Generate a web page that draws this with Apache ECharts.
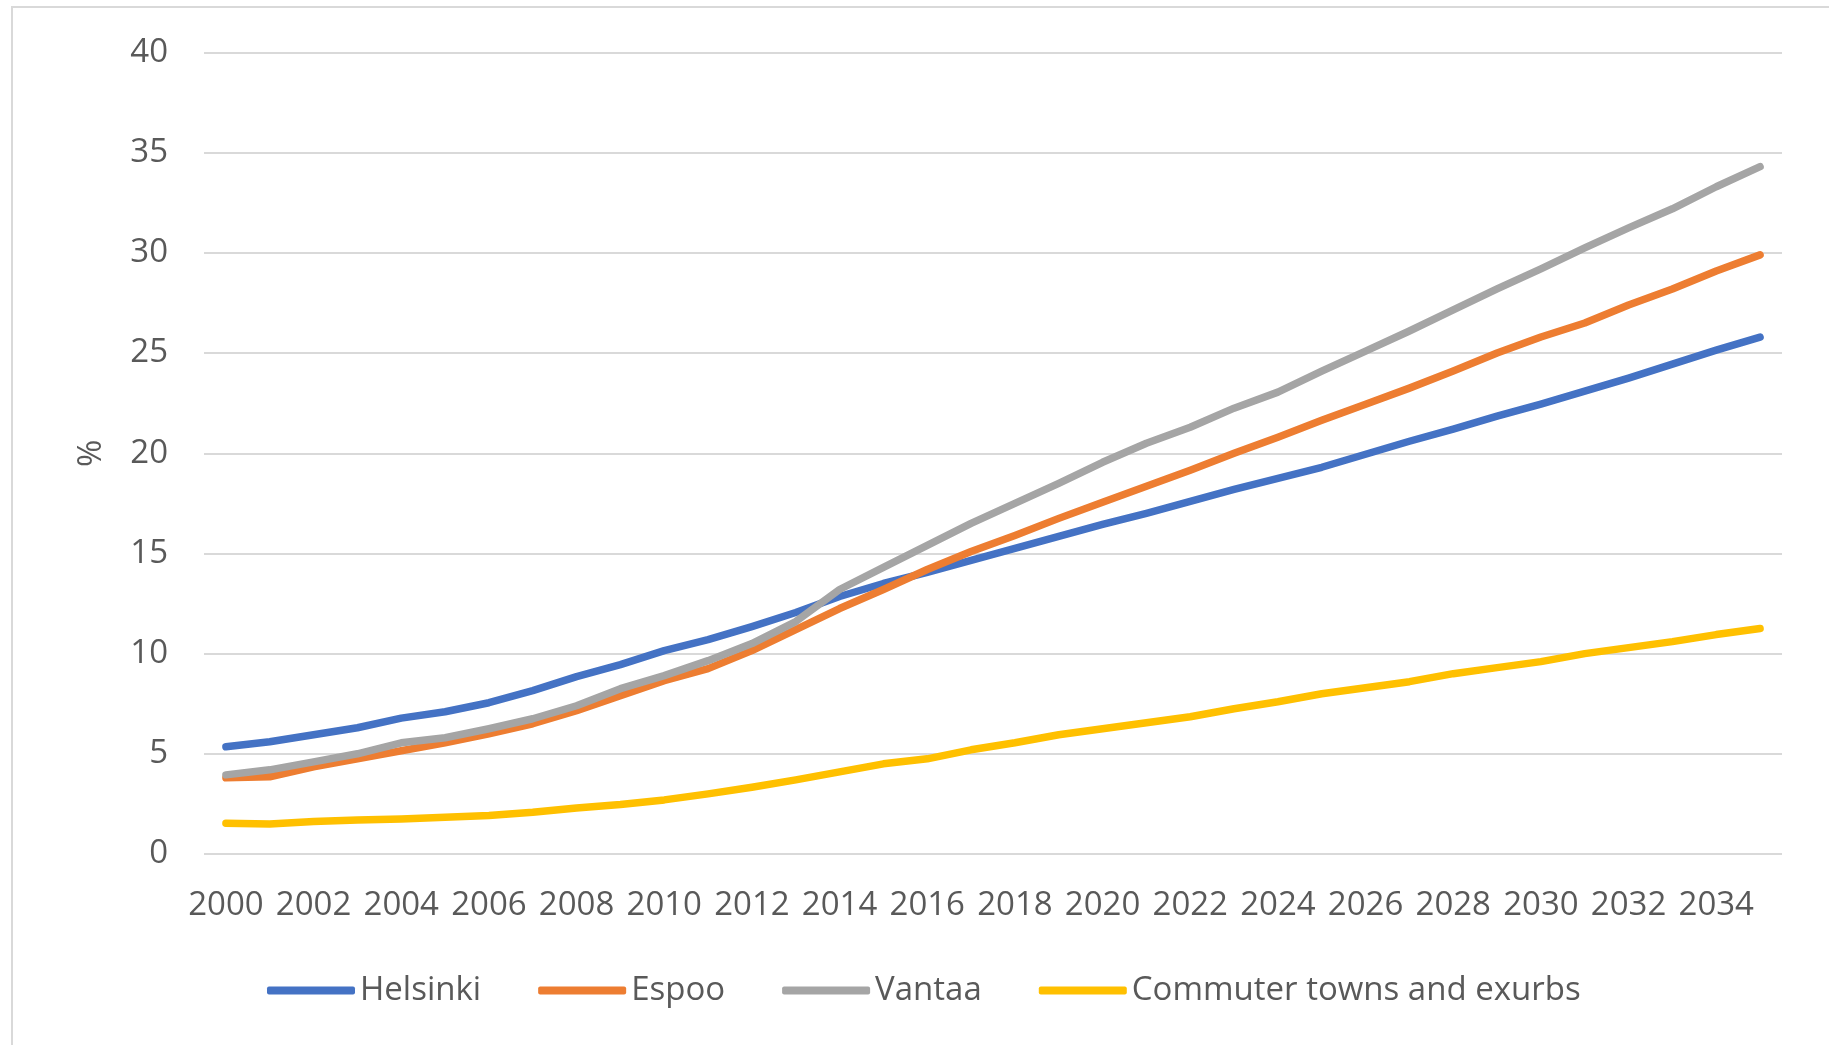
<!DOCTYPE html>
<html>
<head>
<meta charset="utf-8">
<title>Share by area</title>
<script src="https://cdn.jsdelivr.net/npm/echarts@6/dist/echarts.min.js"></script>
<style>
  html, body { margin: 0; padding: 0; background: #fff; }
  #frame {
    position: absolute; left: 11px; top: 6px; width: 1830px; height: 1050px;
    border-left: 2px solid #d9d9d9; border-top: 2px solid #d9d9d9;
  }
  #chart { position: absolute; left: 0; top: 0; width: 1829px; height: 1045px; }
</style>
</head>
<body>
<div id="frame"></div>
<div id="chart"></div>
<script>
// years on the x axis
var years = []
for (var y = 2000; y <= 2035; y++) years.push(String(y))

var helsinki = [5.35, 5.6, 5.95, 6.3, 6.78, 7.1, 7.55, 8.15, 8.85, 9.45, 10.15, 10.7, 11.35, 12.05, 12.85, 13.5, 14.05, 14.65, 15.25, 15.85, 16.45, 17.0, 17.6, 18.2, 18.75, 19.3, 19.95, 20.6, 21.2, 21.85, 22.45, 23.1, 23.75, 24.45, 25.15, 25.8]
var espoo = [3.8, 3.85, 4.35, 4.75, 5.15, 5.55, 6.0, 6.5, 7.15, 7.9, 8.65, 9.25, 10.15, 11.2, 12.25, 13.2, 14.2, 15.1, 15.9, 16.75, 17.55, 18.35, 19.15, 20.0, 20.8, 21.65, 22.45, 23.25, 24.1, 25.0, 25.8, 26.5, 27.4, 28.2, 29.1, 29.9]
var vantaa = [3.95, 4.2, 4.6, 5.0, 5.55, 5.8, 6.25, 6.75, 7.4, 8.25, 8.9, 9.65, 10.5, 11.6, 13.2, 14.3, 15.4, 16.5, 17.5, 18.5, 19.55, 20.5, 21.3, 22.25, 23.05, 24.1, 25.1, 26.1, 27.15, 28.2, 29.2, 30.25, 31.25, 32.2, 33.3, 34.3]
var commuter = [1.53, 1.5, 1.62, 1.7, 1.75, 1.83, 1.92, 2.08, 2.3, 2.47, 2.7, 3.0, 3.33, 3.7, 4.1, 4.5, 4.75, 5.2, 5.55, 5.95, 6.25, 6.55, 6.85, 7.25, 7.6, 8.0, 8.3, 8.6, 9.0, 9.3, 9.6, 10.0, 10.3, 10.6, 10.95, 11.25]

var names = ['Helsinki', 'Espoo', 'Vantaa', 'Commuter towns and exurbs']
var colors = ['#4472c4', '#ed7d31', '#a5a5a5', '#ffc000']
var values = [helsinki, espoo, vantaa, commuter]

var font = 'Open Sans'
var txt = '#595959'

var chart = echarts.init(document.getElementById('chart'))

var series = []
for (var i = 0; i < names.length; i++) {
  series.push({
    name: names[i],
    type: 'line',
    data: values[i],
    showSymbol: false,
    symbol: 'none',
    lineStyle: { color: colors[i], width: 7.5, cap: 'round', join: 'round' },
    itemStyle: { color: colors[i] },
    animation: false
  })
}

chart.setOption({
  animation: false,
  color: colors,
  grid: { left: 204, right: 47, top: 52.5, bottom: 191, containLabel: false },
  legend: {
    left: 262,
    top: 969,
    itemWidth: 88,
    itemHeight: 8,
    itemGap: 57,
    icon: 'roundRect',
    textStyle: { color: txt, fontSize: 33, fontFamily: font },
    data: names
  },
  xAxis: {
    type: 'category',
    data: years,
    boundaryGap: true,
    axisLine: { show: false },
    axisTick: { show: false },
    axisLabel: { interval: 1, margin: 35, color: txt, fontSize: 33, fontFamily: font }
  },
  yAxis: {
    type: 'value',
    min: 0,
    max: 40,
    interval: 5,
    name: '%',
    nameLocation: 'middle',
    nameGap: 96,
    nameTextStyle: { color: txt, fontSize: 33, fontFamily: font },
    axisLine: { show: false },
    axisTick: { show: false },
    axisLabel: { margin: 36, color: txt, fontSize: 33, fontFamily: font },
    splitLine: { lineStyle: { color: '#d9d9d9', width: 2 } }
  },
  series: series
})
</script>
</body>
</html>
